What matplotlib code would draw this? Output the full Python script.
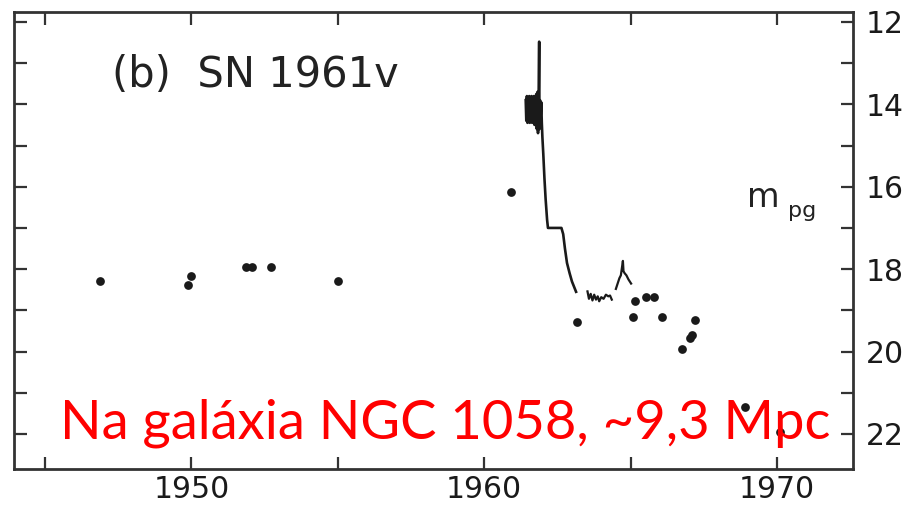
import numpy as np
import matplotlib
matplotlib.use('Agg')
import matplotlib.pyplot as plt
from matplotlib.ticker import MultipleLocator

# photographic magnitudes, pre- and post-outburst plates (dots)
dot_year = [1946.88, 1949.88, 1949.98, 1951.86, 1952.07, 1952.71, 1955.0,
            1960.92, 1963.17, 1965.09, 1965.15, 1965.53, 1965.80, 1966.08,
            1966.76, 1967.03, 1967.10, 1967.20, 1968.90, 1970.10]
dot_mag = [18.29, 18.39, 18.17, 17.95, 17.95, 17.95, 18.29,
           16.12, 19.29, 19.17, 18.78, 18.68, 18.68, 19.15,
           19.93, 19.68, 19.60, 19.24, 21.35, 21.95]

# outburst light curve (main part)
curve_year = [1961.42, 1961.44, 1961.46, 1961.48, 1961.50, 1961.52, 1961.54,
              1961.56, 1961.58, 1961.60, 1961.62, 1961.64, 1961.66, 1961.68,
              1961.70, 1961.72, 1961.74, 1961.76, 1961.78, 1961.80, 1961.82,
              1961.84, 1961.86, 1961.88, 1961.89, 1961.91, 1961.93, 1961.95,
              1961.97, 1961.99, 1962.02, 1962.06, 1962.10, 1962.15, 1962.18,
              1962.40, 1962.64, 1962.70, 1962.76, 1962.83, 1962.92, 1963.00,
              1963.14]
curve_mag = [13.9, 14.4, 13.8, 14.45, 13.85, 14.4, 13.8,
             14.45, 13.9, 14.35, 13.8, 14.45, 13.9, 14.3,
             13.8, 14.5, 13.9, 14.4, 13.75, 14.6, 13.7,
             14.7, 13.9, 12.48, 14.6, 13.9, 14.3, 13.95,
             14.45, 14.8, 15.2, 15.8, 16.3, 16.8, 17.0,
             17.0, 17.0, 17.15, 17.5, 17.85, 18.1, 18.3,
             18.55]

# small wiggle after the decline
wiggle_year = [1963.53, 1963.58, 1963.64, 1963.70, 1963.76, 1963.82, 1963.88,
               1963.93, 1964.00, 1964.08, 1964.16, 1964.24, 1964.30, 1964.36]
wiggle_mag = [18.54, 18.72, 18.60, 18.76, 18.62, 18.74, 18.66,
              18.78, 18.68, 18.72, 18.62, 18.66, 18.64, 18.74]

# secondary hump
hump_year = [1964.50, 1964.56, 1964.62, 1964.67, 1964.71, 1964.74, 1964.76,
             1964.80, 1964.86, 1964.93, 1965.02]
hump_mag = [18.48, 18.35, 18.22, 18.15, 17.95, 17.80, 18.05,
            18.10, 18.15, 18.25, 18.35]

ink = '#1a1a1a'

fig = plt.figure(figsize=(9.1, 5.08), dpi=100)
ax = fig.add_axes([14 / 910, 1 - 469 / 508, (853 - 14) / 910, (469 - 12) / 508])

ax.plot(curve_year, curve_mag, color=ink, lw=1.9, zorder=3)
ax.plot(wiggle_year, wiggle_mag, color=ink, lw=1.6, zorder=3)
ax.plot(hump_year, hump_mag, color=ink, lw=1.6, zorder=3)
ax.plot(dot_year, dot_mag, 'o', color=ink, ms=6.3, mec='none', zorder=3)

ax.set_xlim(1943.94, 1972.6)
ax.set_ylim(22.85, 11.76)

ax.xaxis.set_major_locator(MultipleLocator(10))
ax.xaxis.set_minor_locator(MultipleLocator(5))
ax.yaxis.set_major_locator(MultipleLocator(2))
ax.yaxis.set_minor_locator(MultipleLocator(1))

for which in ('major', 'minor'):
    ax.tick_params(which=which, direction='in', length=9, width=1.6, color='#333333',
                   top=True, bottom=True, left=True, right=True,
                   labelleft=False, labelright=True, labelbottom=True, labeltop=False)
ax.tick_params(axis='x', which='major', labelsize=21.5, pad=4, labelcolor=ink)
ax.tick_params(axis='y', which='major', labelsize=21.5, pad=9, labelcolor=ink)

for sp in ax.spines.values():
    sp.set_linewidth(2)
    sp.set_color('#333333')

ax.text(112 / 910, 1 - 87 / 508, '(b)  SN 1961v', transform=fig.transFigure,
        fontsize=30, color='#222222', ha='left', va='baseline')
ax.text(747 / 910, 1 - 207 / 508, 'm', transform=fig.transFigure,
        fontsize=24, color='#222222', ha='left', va='baseline')
ax.text(788 / 910, 1 - 217 / 508, 'pg', transform=fig.transFigure,
        fontsize=16, color='#222222', ha='left', va='baseline')

ax.text(60 / 910, 1 - 438 / 508, 'Na galáxia NGC 1058, ~9,3 Mpc', transform=fig.transFigure,
        fontsize=39.2, color='#ff0000', family='Lato', ha='left', va='baseline', zorder=5)

fig.savefig('out.png', dpi=100)
